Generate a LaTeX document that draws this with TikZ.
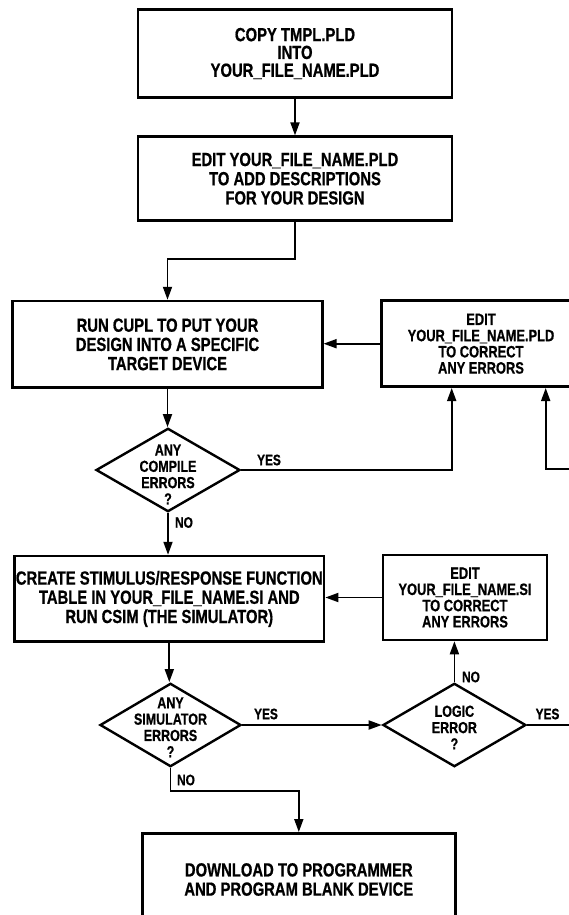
\documentclass[tikz,border=0pt]{standalone}
\usepackage{fontspec}
\newfontfamily\cond{Liberation Sans}[FakeStretch=0.78, BoldFeatures={FakeBold=0.7}]
\usetikzlibrary{shapes.geometric,arrows.meta}
\begin{document}
\begin{tikzpicture}[x=1pt,y=-1pt,
  box/.style={draw, rectangle, line width=2.6pt, inner sep=0pt, align=center,
    font=\cond\bfseries\fontsize{19}{19.2}\selectfont},
  sbox/.style={box, font=\cond\bfseries\fontsize{16.5}{16.2}\selectfont},
  dia/.style={draw, diamond, line width=2.4pt, inner sep=0pt},
  dtext/.style={align=center, inner sep=0pt, font=\cond\bfseries\fontsize{16}{16.3}\selectfont},
  lab/.style={inner sep=0pt, font=\cond\bfseries\fontsize{15.2}{16}\selectfont},
  wire/.style={line width=1.8pt},
  conn/.style={wire, -{Triangle[length=13pt,width=9pt]}}]
\useasboundingbox (0,0) rectangle (569,915);
\clip (0,0) rectangle (569,915);
\fill[white] (0,0) rectangle (569,915);

% boxes
\node[box, minimum width=314pt, minimum height=88.4pt,
  font=\cond\bfseries\fontsize{19}{17.8}\selectfont] (b1) at (295,53.5)
  {COPY TMPL.PLD\\INTO\\YOUR\_FILE\_NAME.PLD};
\node[box, minimum width=314pt, minimum height=84pt] (b2) at (295,178.7)
  {EDIT YOUR\_FILE\_NAME.PLD\\TO ADD DESCRIPTIONS\\FOR YOUR DESIGN};
\node[box, minimum width=309.5pt, minimum height=86.7pt] (b3) at (167.5,344.4)
  {RUN CUPL TO PUT YOUR\\DESIGN INTO A SPECIFIC\\TARGET DEVICE};
\node[sbox, minimum width=198.6pt, minimum height=86pt] (b4) at (481,343.7)
  {EDIT\\YOUR\_FILE\_NAME.PLD\\TO CORRECT\\ANY ERRORS};
\node[box, minimum width=309.5pt, minimum height=85.7pt] (b5) at (169.3,598.9)
  {CREATE STIMULUS/RESPONSE FUNCTION\\TABLE IN YOUR\_FILE\_NAME.SI AND\\RUN CSIM (THE SIMULATOR)};
\node[sbox, minimum width=164.2pt, minimum height=85pt] (b6) at (465,597.5)
  {EDIT\\YOUR\_FILE\_NAME.SI\\TO CORRECT\\ANY ERRORS};
\node[box, minimum width=313.2pt, minimum height=92.4pt] (b7) at (298.8,879.5)
  {DOWNLOAD TO PROGRAMMER\\AND PROGRAM BLANK DEVICE};

% decisions
\node[dia, minimum width=144pt, minimum height=83.4pt] (d1) at (168,470) {};
\node[dtext] (d1t) at (168,474.5) {ANY\\COMPILE\\ERRORS\\?};
\node[dia, minimum width=141pt, minimum height=83.4pt] (d2) at (170.5,725) {};
\node[dtext] (d2t) at (170.5,727.3) {ANY\\SIMULATOR\\ERRORS\\?};
\node[dia, minimum width=143pt, minimum height=83.4pt] (d3) at (454.4,725) {};
\node[dtext] (d3t) at (454.4,727.5) {LOGIC\\ERROR\\?};

% helper points
\coordinate (k1) at (295,259);
\coordinate (k2) at (451.7,470);
\coordinate (r1) at (585,469);
\coordinate (k3) at (545.7,469);
\coordinate (r2) at (585,725);
\coordinate (k4) at (298.8,790.7);

% connectors
\draw[conn] (b1.south) -- (b2.north);
\draw[conn] (b2.south) -- (k1) -| (b3.north);
\draw[conn] (b4.west) -- (b4.west -| b3.east);
\draw[conn] (b3.south) -- (b3.south |- d1.north);
\draw[conn] (d1.east) -- (k2) -- (k2 |- b4.south);
\draw[conn] (r1) -- (k3) -- (k3 |- b4.south);
\draw[conn] (d1.south) -- (d1.south |- b5.north);
\draw[conn] (b6.west) -- (b6.west -| b5.east);
\draw[conn] (b5.south) -- (b5.south |- d2.north);
\draw[conn] (d2.east) -- (d3.west);
\draw[conn] (d3.north) -- (d3.north |- b6.south);
\draw[wire] (d3.east) -- (r2);
\draw[conn] (d2.south) |- (k4) -- (b7.north);

% labels
\node[lab] (y1) at (269,460) {YES};
\node[lab] (n1) at (184,522.5) {NO};
\node[lab] (y2) at (266,714) {YES};
\node[lab] (n2) at (471,677) {NO};
\node[lab] (y3) at (547.5,714) {YES};
\node[lab] (n3) at (186,780) {NO};
\end{tikzpicture}
\end{document}
